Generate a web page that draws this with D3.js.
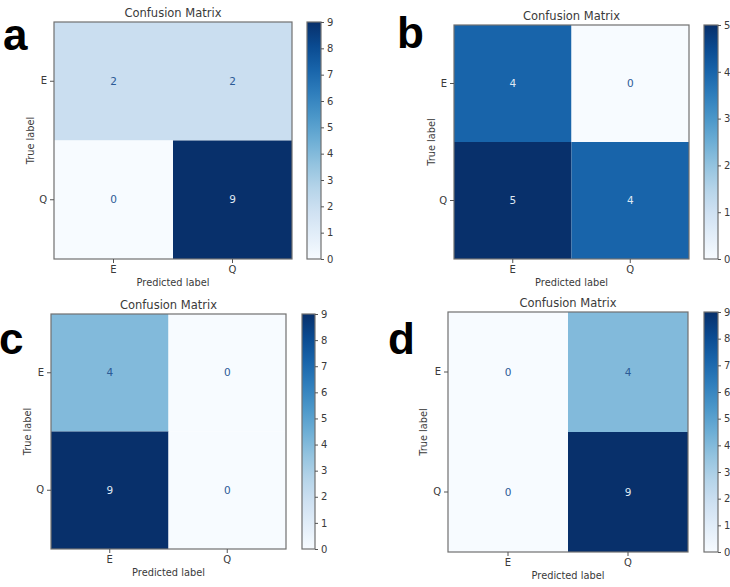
<!DOCTYPE html>
<html>
<head>
<meta charset="utf-8">
<script src="https://cdn.jsdelivr.net/npm/d3@7"></script>
<style>
  body { margin: 0; background: #fff; }
  svg text { font-family: "DejaVu Sans", sans-serif; }
</style>
</head>
<body>
<svg id="chart" width="730" height="587"></svg>
<script>
// class labels shared by all four matrices
var classes = ["E", "Q"];

// confusion matrices, rows = true label, cols = predicted label
var matrixA = [[2, 2], [0, 9]];
var matrixB = [[4, 0], [5, 4]];
var matrixC = [[4, 0], [9, 0]];
var matrixD = [[0, 4], [0, 9]];

var panelLetters = ["a", "b", "c", "d"];
var titleText = "Confusion Matrix";
var xLabelText = "Predicted label";
var yLabelText = "True label";

// layout of each panel (plot box, colorbar, title, letter)
var layouts = [
	{ x0: 54, x1: 292, y0: 22, y1: 259, cb0: 307, cb1: 321, titleY: 17, lx: 3, ly: 50, ylx: 31 },
	{ x0: 454, x1: 689, y0: 25, y1: 259, cb0: 704, cb1: 718, titleY: 20, lx: 397, ly: 48, ylx: 432 },
	{ x0: 51, x1: 286, y0: 314, y1: 549, cb0: 302, cb1: 315, titleY: 309, lx: -1, ly: 354, ylx: 28 },
	{ x0: 448, x1: 688, y0: 312, y1: 552, cb0: 704, cb1: 718, titleY: 307, lx: 388, ly: 354, ylx: 424 }
];

var matrices = [matrixA, matrixB, matrixC, matrixD];

var svg = d3.select("#chart");
var textColor = "#3a3a3a";
var spineColor = "#707070";

matrices.forEach(function(m, i) {
	var L = layouts[i];
	var g = svg.append("g");
	var vmax = d3.max(m, function(r) { return d3.max(r); });
	var vmin = 0;

	var color = d3.scaleSequential(d3.interpolateBlues).domain([vmin, vmax]);

	var x = d3.scaleBand().domain(classes).range([L.x0, L.x1]);
	var y = d3.scaleBand().domain(classes).range([L.y0, L.y1]);

	var cells = [];
	m.forEach(function(row, r) {
		row.forEach(function(v, c) {
			cells.push({ t: classes[r], p: classes[c], v: v });
		});
	});

	g.selectAll(".cell")
		.data(cells)
		.enter().append("rect")
		.attr("class", "cell")
		.attr("x", function(d) { return x(d.p); })
		.attr("y", function(d) { return y(d.t); })
		.attr("width", x.bandwidth())
		.attr("height", y.bandwidth())
		.style("fill", function(d) { return color(d.v); });

	// matplotlib flips text colour at the midpoint of the range
	var thresh = (vmax + vmin) / 2;
	g.selectAll(".val")
		.data(cells)
		.enter().append("text")
		.attr("class", "val")
		.attr("x", function(d) { return x(d.p) + x.bandwidth() / 2; })
		.attr("y", function(d) { return y(d.t) + y.bandwidth() / 2; })
		.attr("dy", "0.35em")
		.attr("text-anchor", "middle")
		.style("font-size", "10.5px")
		.style("fill", function(d) { return d.v < thresh ? "#2c5a96" : "#dfe8f3"; })
		.text(function(d) { return d.v; });

	g.append("rect")
		.attr("x", L.x0).attr("y", L.y0)
		.attr("width", L.x1 - L.x0).attr("height", L.y1 - L.y0)
		.style("fill", "none").style("stroke", spineColor).style("stroke-width", 1.2);

	var xAxis = g.append("g")
		.attr("transform", "translate(0," + L.y1 + ")")
		.call(d3.axisBottom(x).tickSize(4).tickPadding(3));
	var yAxis = g.append("g")
		.attr("transform", "translate(" + L.x0 + ",0)")
		.call(d3.axisLeft(y).tickSize(4).tickPadding(3));
	[xAxis, yAxis].forEach(function(a) {
		a.select(".domain").remove();
		a.selectAll("line").style("stroke", "#555");
		a.selectAll("text").style("font-size", "10px").style("fill", textColor).style("font-family", "DejaVu Sans");
	});

	g.append("text")
		.attr("x", (L.x0 + L.x1) / 2).attr("y", L.titleY)
		.attr("text-anchor", "middle")
		.style("font-size", "11.5px").style("fill", textColor)
		.text(titleText);

	g.append("text")
		.attr("x", (L.x0 + L.x1) / 2).attr("y", L.y1 + 27)
		.attr("text-anchor", "middle")
		.style("font-size", "9.8px").style("fill", textColor)
		.text(xLabelText);

	g.append("text")
		.attr("transform", "translate(" + L.ylx + "," + (L.y0 + L.y1) / 2 + ") rotate(-90)")
		.attr("dy", "0.35em")
		.attr("text-anchor", "middle")
		.style("font-size", "9.8px").style("fill", textColor)
		.text(yLabelText);

	// colorbar
	var gradId = "grad" + i;
	var grad = svg.append("defs").append("linearGradient")
		.attr("id", gradId)
		.attr("x1", "0").attr("y1", "1").attr("x2", "0").attr("y2", "0");
	d3.range(0, 1.0001, 0.1).forEach(function(t) {
		grad.append("stop")
			.attr("offset", t)
			.attr("stop-color", color(vmin + t * (vmax - vmin)));
	});

	var cbScale = d3.scaleLinear().domain([vmin, vmax]).range([L.y1, L.y0]);
	g.append("rect")
		.attr("x", L.cb0).attr("y", L.y0)
		.attr("width", L.cb1 - L.cb0).attr("height", L.y1 - L.y0)
		.style("fill", "url(#" + gradId + ")")
		.style("stroke", spineColor).style("stroke-width", 1.2);

	var cbAxis = g.append("g")
		.attr("transform", "translate(" + L.cb1 + ",0)")
		.call(d3.axisRight(cbScale).tickValues(d3.range(vmin, vmax + 1)).tickFormat(d3.format("d")).tickSize(3).tickPadding(3));
	cbAxis.select(".domain").remove();
	cbAxis.selectAll("line").style("stroke", "#555");
	cbAxis.selectAll("text").style("font-size", "10px").style("fill", textColor).style("font-family", "DejaVu Sans");

	// panel letter
	svg.append("text")
		.attr("x", L.lx).attr("y", L.ly)
		.style("font-family", "'Liberation Sans', Arial, sans-serif")
		.style("font-weight", "bold")
		.style("font-size", "44px")
		.style("fill", "#000")
		.text(panelLetters[i]);
});
</script>
</body>
</html>
